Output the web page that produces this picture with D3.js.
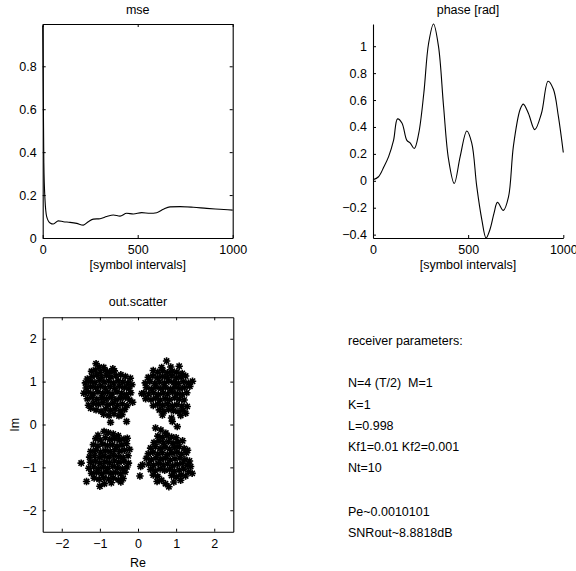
<!DOCTYPE html>
<html>
<head>
<meta charset="utf-8">
<script src="https://cdn.jsdelivr.net/npm/d3@7"></script>
<style>
  body { margin: 0; background: #fff; }
  svg { display: block; font-family: "Liberation Sans", Arial, sans-serif; }
  .axis path, .axis line { stroke: #000; }
  text { white-space: pre; }
</style>
</head>
<body>
<svg id="fig" width="576" height="571"></svg>
<script>
// mse curve (sampled from the plot)
const mseX = [0, 6, 12, 21, 39, 56, 82, 109, 144, 179, 214, 240, 267, 302, 337, 372, 407, 442, 477, 521, 565, 600, 635, 670, 723, 793, 863, 933, 1000];
const mseY = [0.99, 0.35, 0.18, 0.1, 0.07, 0.065, 0.08, 0.076, 0.073, 0.068, 0.06, 0.076, 0.088, 0.09, 0.1, 0.107, 0.102, 0.115, 0.112, 0.118, 0.115, 0.118, 0.134, 0.145, 0.146, 0.143, 0.138, 0.134, 0.13];

// phase curve
const phaseX = [0, 29, 56, 82, 108, 129, 152, 178, 196, 217, 240, 267, 292, 318, 344, 371, 397, 427, 458, 493, 519, 545, 572, 594, 615, 636, 654, 685, 712, 738, 773, 790, 817, 850, 885, 920, 948, 974, 1000];
const phaseY = [0.007, 0.03, 0.1, 0.18, 0.3, 0.46, 0.43, 0.3, 0.28, 0.24, 0.35, 0.65, 1.02, 1.165, 1.0, 0.55, 0.16, -0.02, 0.18, 0.37, 0.28, -0.04, -0.29, -0.425, -0.36, -0.24, -0.16, -0.22, -0.12, 0.26, 0.53, 0.57, 0.5, 0.38, 0.5, 0.74, 0.68, 0.48, 0.21];

// scatter of equaliser output, four QPSK clusters [re, im]
const clusterUL = [[-1.10,1.42],[-1.02,1.34],[-0.90,1.33],[-0.66,1.30],
  [-1.22,1.24],[-1.12,1.27],[-0.99,1.22],[-0.86,1.26],[-0.74,1.23],[-0.62,1.25],
  [-1.33,1.06],[-1.21,1.12],[-1.08,1.15],[-0.96,1.10],[-0.83,1.14],[-0.71,1.11],[-0.58,1.13],[-0.45,1.16],[-0.33,1.12],[-0.20,1.08],
  [-1.38,0.97],[-1.25,1.00],[-1.13,0.98],[-1.01,1.03],[-0.89,0.99],[-0.77,1.01],[-0.64,0.97],[-0.52,1.02],[-0.40,0.99],[-0.27,0.97],[-0.16,0.93],
  [-1.36,0.85],[-1.24,0.88],[-1.11,0.86],[-0.98,0.89],[-0.86,0.85],[-0.73,0.88],[-0.61,0.84],[-0.49,0.89],[-0.36,0.86],[-0.24,0.84],
  [-1.42,0.73],[-1.30,0.75],[-1.18,0.72],[-1.05,0.76],[-0.93,0.73],[-0.80,0.75],[-0.68,0.71],[-0.55,0.76],[-0.43,0.73],[-0.30,0.70],[-0.19,0.74],
  [-1.33,0.60],[-1.20,0.63],[-1.08,0.59],[-0.95,0.62],[-0.83,0.60],[-0.70,0.63],[-0.58,0.58],[-0.46,0.61],[-0.33,0.63],[-0.22,0.57],
  [-1.30,0.45],[-1.17,0.49],[-1.04,0.47],[-0.92,0.50],[-0.79,0.46],[-0.66,0.49],[-0.54,0.45],[-0.41,0.48],[-0.29,0.44],
  [-1.24,0.38],[-1.10,0.34],[-0.97,0.31],[-0.85,0.36],[-0.72,0.33],[-0.60,0.37],[-0.47,0.32],[-0.35,0.35],
  [-0.90,0.24],[-0.76,0.21],[-0.63,0.25],[-0.50,0.20],[-0.42,0.23],
  [-0.72,0.05],[-0.30,0.07],[-0.14,0.52]];
const clusterUR = [[0.75,1.48],[1.08,1.36],[0.62,1.33],[0.86,1.34],
  [0.40,1.26],[0.52,1.22],[0.65,1.25],[0.77,1.21],[0.90,1.24],[1.02,1.22],[1.16,1.19],
  [0.27,1.10],[0.39,1.13],[0.51,1.09],[0.64,1.12],[0.76,1.10],[0.89,1.13],[1.01,1.09],[1.13,1.11],[1.25,1.13],
  [0.19,0.97],[0.31,1.00],[0.44,0.96],[0.56,0.99],[0.69,0.97],[0.81,1.01],[0.94,0.98],[1.06,0.96],[1.19,1.00],[1.32,0.97],[1.43,1.01],
  [0.22,0.86],[0.35,0.83],[0.47,0.87],[0.60,0.84],[0.72,0.86],[0.85,0.83],[0.97,0.87],[1.10,0.84],[1.22,0.86],[1.36,0.89],
  [0.15,0.73],[0.28,0.71],[0.41,0.74],[0.53,0.70],[0.66,0.73],[0.78,0.71],[0.91,0.75],[1.03,0.72],[1.16,0.70],[1.28,0.74],
  [0.20,0.60],[0.34,0.58],[0.46,0.61],[0.58,0.57],[0.71,0.60],[0.83,0.58],[0.96,0.62],[1.08,0.59],[1.21,0.57],
  [0.40,0.44],[0.52,0.47],[0.65,0.45],[0.77,0.48],[0.90,0.44],[1.02,0.46],[1.15,0.43],[1.29,0.42],
  [0.56,0.34],[0.68,0.31],[0.80,0.35],[0.93,0.32],[1.05,0.30],[1.18,0.33],
  [0.64,0.22],[0.88,0.15],[1.12,0.21],[1.25,0.26],
  [1.03,-0.05],[0.10,0.72]];
const clusterLL = [[-0.89,-0.16],[-0.78,-0.19],[-1.05,-0.25],[-0.65,-0.22],[-0.52,-0.26],[-0.28,-0.32],
  [-1.11,-0.33],[-0.99,-0.36],[-0.86,-0.31],[-0.74,-0.35],[-0.61,-0.33],[-0.49,-0.37],[-0.37,-0.34],
  [-1.17,-0.47],[-1.05,-0.50],[-0.92,-0.46],[-0.80,-0.49],[-0.67,-0.47],[-0.55,-0.51],[-0.42,-0.48],[-0.30,-0.45],
  [-1.24,-0.63],[-1.11,-0.60],[-0.98,-0.64],[-0.86,-0.61],[-0.73,-0.63],[-0.61,-0.59],[-0.48,-0.62],[-0.36,-0.60],[-0.22,-0.58],
  [-1.27,-0.76],[-1.14,-0.73],[-1.01,-0.77],[-0.89,-0.74],[-0.76,-0.76],[-0.64,-0.72],[-0.51,-0.75],[-0.39,-0.77],[-0.26,-0.73],
  [-1.25,-0.88],[-1.12,-0.86],[-1.00,-0.90],[-0.87,-0.87],[-0.75,-0.89],[-0.62,-0.85],[-0.50,-0.88],[-0.37,-0.86],[-0.25,-0.90],
  [-1.29,-1.02],[-1.16,-0.99],[-1.04,-1.03],[-0.91,-1.00],[-0.79,-1.02],[-0.66,-0.98],[-0.54,-1.01],[-0.41,-1.03],[-0.29,-0.99],
  [-1.22,-1.14],[-1.09,-1.12],[-0.96,-1.15],[-0.84,-1.11],[-0.71,-1.14],[-0.59,-1.12],[-0.46,-1.15],[-0.34,-1.11],
  [-1.15,-1.25],[-1.02,-1.28],[-0.90,-1.24],[-0.77,-1.27],[-0.65,-1.25],[-0.52,-1.29],[-0.39,-1.26],
  [-1.35,-1.33],[-1.00,-1.44],[-0.88,-1.38],[-0.70,-1.36],[-0.45,-1.34],
  [-1.49,-0.90]];
const clusterLR = [[0.46,-0.08],[0.90,0.07],[0.60,-0.13],[0.73,-0.20],
  [0.52,-0.27],[0.64,-0.30],[0.76,-0.26],[0.88,-0.29],[1.00,-0.31],
  [0.42,-0.42],[0.55,-0.39],[0.67,-0.43],[0.80,-0.40],[0.92,-0.44],[1.05,-0.41],[1.17,-0.38],
  [0.33,-0.55],[0.46,-0.52],[0.58,-0.56],[0.71,-0.53],[0.83,-0.57],[0.96,-0.54],[1.08,-0.52],[1.21,-0.56],[1.30,-0.60],
  [0.27,-0.68],[0.39,-0.65],[0.52,-0.69],[0.64,-0.66],[0.77,-0.70],[0.89,-0.67],[1.02,-0.65],[1.14,-0.69],[1.27,-0.66],
  [0.22,-0.79],[0.35,-0.82],[0.47,-0.78],[0.60,-0.81],[0.72,-0.79],[0.85,-0.83],[0.97,-0.80],[1.10,-0.78],[1.23,-0.82],[1.35,-0.85],
  [0.12,-0.94],[0.28,-0.92],[0.41,-0.95],[0.53,-0.91],[0.66,-0.94],[0.78,-0.92],[0.91,-0.96],[1.03,-0.93],[1.16,-0.91],[1.29,-0.95],[1.38,-0.98],
  [0.33,-1.05],[0.45,-1.08],[0.58,-1.04],[0.70,-1.07],[0.83,-1.05],[0.95,-1.09],[1.08,-1.06],[1.20,-1.04],[1.33,-1.10],[1.42,-1.14],
  [0.40,-1.18],[0.52,-1.21],[0.88,-1.19],[1.00,-1.22],[1.13,-1.18],[1.25,-1.20],
  [0.50,-1.33],[0.62,-1.30],[0.81,-1.45],[0.94,-1.34],[1.12,-1.30],[0.72,-1.38],
  [0.07,-0.98],[0.05,-1.20]];

const mseTicksY = [0, 0.2, 0.4, 0.6, 0.8];
const phaseTicksY = [-0.4, -0.2, 0, 0.2, 0.4, 0.6, 0.8, 1];
const timeTicks = [0, 500, 1000];
const iqTicks = [-2, -1, 0, 1, 2];

const paramLines = ["receiver parameters:", "", "N=4 (T/2)  M=1", "K=1", "L=0.998",
  "Kf1=0.01 Kf2=0.001", "Nt=10", "", "Pe~0.0010101", "SNRout~8.8818dB"];

const svg = d3.select("#fig");
const FS = "12.5px";
const fmt = d => (d < 0 ? "\u2212" : "") + Math.abs(d);

// draws axis with inward ticks, optionally mirrored on top/right (box)
function frame(x, y, xt, yt, box) {
  const [x0, x1] = x.range(), [y1, y0] = y.range();
  const g = svg.append("g").attr("class", "axis");
  const tl = 3;
  g.append("g").attr("transform", `translate(0,${y1})`)
    .call(d3.axisBottom(x).tickValues(xt).tickSize(-tl).tickPadding(7).tickFormat(fmt).tickSizeOuter(0));
  g.append("g").attr("transform", `translate(${x0},0)`)
    .call(d3.axisLeft(y).tickValues(yt).tickSize(-tl).tickPadding(6).tickFormat(fmt).tickSizeOuter(0));
  if (box) {
    g.append("g").attr("transform", `translate(0,${y0})`)
      .call(d3.axisTop(x).tickValues(xt).tickSize(-tl).tickFormat("").tickSizeOuter(0));
    g.append("g").attr("transform", `translate(${x1},0)`)
      .call(d3.axisRight(y).tickValues(yt).tickSize(-tl).tickFormat("").tickSizeOuter(0));
  }
  g.selectAll("text").attr("font-size", FS).attr("font-family", "Liberation Sans, Arial, sans-serif").attr("fill", "#000");
  g.selectAll("path.domain").attr("stroke-width", 1.1);
  return g;
}

function label(x, y, txt, rot) {
  const t = svg.append("text").attr("x", x).attr("y", y).attr("text-anchor", "middle")
    .attr("font-size", FS).text(txt);
  if (rot) t.attr("transform", `rotate(-90,${x},${y})`);
}

// --- mse
const xA = d3.scaleLinear().domain([0, 1000]).range([42.7, 232.7]);
const yA = d3.scaleLinear().domain([0, 0.997]).range([238, 24]);
frame(xA, yA, timeTicks, mseTicksY, true);
svg.append("path").datum(d3.zip(mseX, mseY)).attr("fill", "none").attr("stroke", "#000").attr("stroke-width", 1.1)
  .attr("d", d3.line().x(d => xA(d[0])).y(d => yA(d[1])).curve(d3.curveMonotoneX));
label(137.7, 13.5, "mse");
label(137.7, 268.5, "[symbol intervals]");

// --- phase
const xB = d3.scaleLinear().domain([0, 1000]).range([373, 563.3]);
const yB = d3.scaleLinear().domain(d3.extent(phaseY)).range([238, 24]);
frame(xB, yB, timeTicks, phaseTicksY, false);
svg.append("path").datum(d3.zip(phaseX, phaseY)).attr("fill", "none").attr("stroke", "#000").attr("stroke-width", 1.1)
  .attr("d", d3.line().x(d => xB(d[0])).y(d => yB(d[1])).curve(d3.curveCatmullRom));
label(468, 13.5, "phase [rad]");
label(468, 268.5, "[symbol intervals]");

// --- scatter
const xC = d3.scaleLinear().domain([-2.5, 2.5]).range([42.7, 233.3]);
const yC = d3.scaleLinear().domain([-2.5, 2.5]).range([531.7, 317.3]);
const r = 3.7, q = r * 0.72;
const star = `M${-r},0H${r}M0,${-r}V${r}M${-q},${-q}L${q},${q}M${-q},${q}L${q},${-q}`;
const pts = [].concat(clusterUL, clusterUR, clusterLL, clusterLR);
svg.append("g").selectAll("path").data(pts).join("path")
  .attr("transform", d => `translate(${xC(d[0])},${yC(d[1])})`)
  .attr("d", star).attr("stroke", "#000").attr("stroke-width", 1.6).attr("fill", "none");
frame(xC, yC, iqTicks, iqTicks, true);
label(138, 306, "out.scatter");
label(138, 566.5, "Re");
label(19, 424.7, "Im", true);

// --- parameter text
const baseY = [345, 0, 387, 408.5, 430, 451, 472, 0, 515.5, 537];
svg.append("g").selectAll("text").data(paramLines.map((s, i) => [s, baseY[i]]).filter(d => d[0]))
  .join("text").attr("x", 348).attr("y", d => d[1]).attr("font-size", FS).attr("xml:space", "preserve").text(d => d[0]);
</script>
</body>
</html>
